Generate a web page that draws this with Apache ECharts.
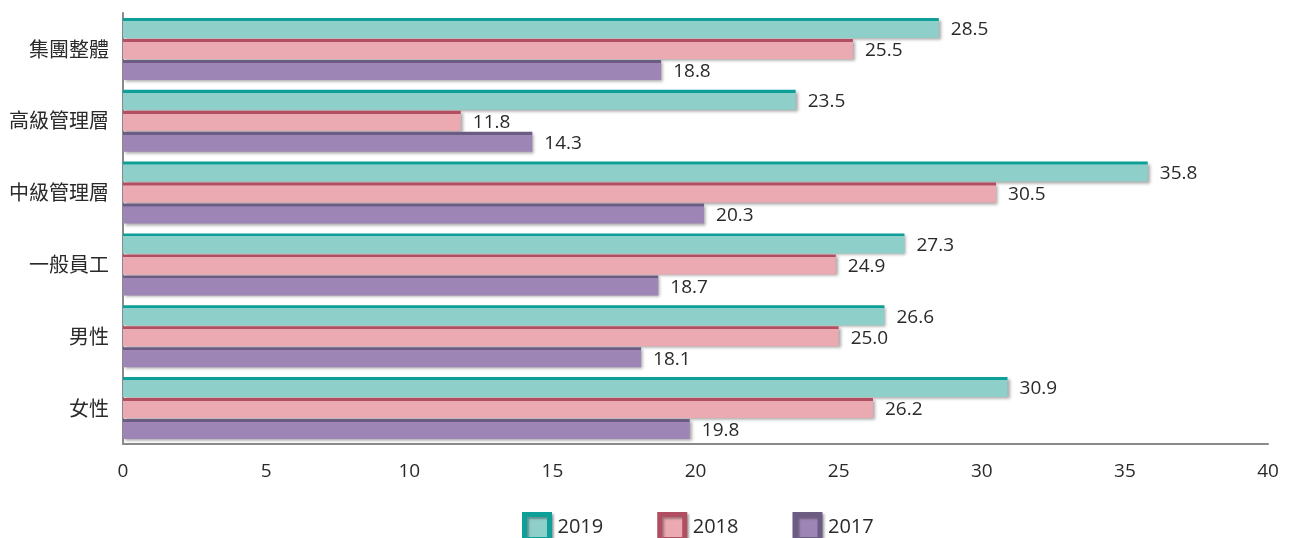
<!DOCTYPE html>
<html>
<head>
<meta charset="utf-8">
<script src="https://cdn.jsdelivr.net/npm/echarts@6/dist/echarts.min.js"></script>
<style>
  html, body { margin: 0; padding: 0; background: #fff; }
  #chart { width: 1290px; height: 538px; }
</style>
</head>
<body>
<div id="chart"></div>
<script>
// Categories (top to bottom)
const categories = ['集團整體', '高級管理層', '中級管理層', '一般員工', '男性', '女性'];
// Values per year
const values2019 = [28.5, 23.5, 35.8, 27.3, 26.6, 30.9];
const values2018 = [25.5, 11.8, 30.5, 24.9, 25.0, 26.2];
const values2017 = [18.8, 14.3, 20.3, 18.7, 18.1, 19.8];
const seriesNames = ['2019', '2018', '2017'];
const xTicks = [0, 5, 10, 15, 20, 25, 30, 35, 40];

const palette = [
  { fill: '#8ECFCA', edge: '#0E9F98' },
  { fill: '#EBA9B1', edge: '#B24E62' },
  { fill: '#9D86B5', edge: '#6C5C84' }
];

const FONT = '"Open Sans", "Noto Sans CJK TC", sans-serif';
const TEXT = '#2a2a2a';

function barStyle(p) {
  return {
    color: {
      type: 'linear', x: 0, y: 0, x2: 0, y2: 1,
      colorStops: [
        { offset: 0, color: p.edge },
        { offset: 0.14, color: p.edge },
        { offset: 0.15, color: p.fill },
        { offset: 1, color: p.fill }
      ]
    },
    shadowColor: 'rgba(0,0,0,0.35)',
    shadowBlur: 3,
    shadowOffsetX: 2,
    shadowOffsetY: 2
  };
}

function makeSeries(name, data, p) {
  return {
    name: name,
    type: 'bar',
    data: data,
    barWidth: 20,
    barGap: '5%',
    itemStyle: barStyle(p),
    label: {
      show: true,
      position: 'right',
      distance: 12,
      offset: [0, 2],
      color: TEXT,
      fontSize: 19,
      fontFamily: FONT,
      formatter: (d) => d.value.toFixed(1)
    }
  };
}

const chart = echarts.init(document.getElementById('chart'), null, { renderer: 'canvas' });
chart.setOption({
  animation: false,
  backgroundColor: '#fff',
  grid: { left: 123, right: 22, top: 13, bottom: 94, containLabel: false },
  legend: {
    top: 507,
    left: 517,
    itemWidth: 25,
    itemHeight: 25,
    itemGap: 54,
    icon: 'rect',
    textStyle: { fontSize: 20, color: TEXT, fontFamily: FONT, padding: [0, 0, 0, 3] },
    data: seriesNames.map((n, i) => ({
      name: n,
      itemStyle: {
        color: palette[i].fill,
        borderColor: palette[i].edge,
        borderWidth: 5,
        shadowColor: 'rgba(0,0,0,0.3)', shadowBlur: 2, shadowOffsetX: 2, shadowOffsetY: 2
      }
    }))
  },
  xAxis: {
    type: 'value',
    min: 0, max: 40, interval: 5,
    axisLine: { show: true, lineStyle: { color: '#8a8a8a', width: 2 } },
    axisTick: { show: false },
    splitLine: { show: false },
    axisLabel: {
      fontSize: 19, color: TEXT, fontFamily: FONT, margin: 18,
      formatter: (v) => xTicks.includes(v) ? String(v) : ''
    }
  },
  yAxis: {
    type: 'category',
    inverse: true,
    data: categories,
    axisLine: { show: true, lineStyle: { color: '#8a8a8a', width: 2 } },
    axisTick: { show: false },
    axisLabel: { fontSize: 20, color: TEXT, fontFamily: '"Noto Sans CJK TC", sans-serif', margin: 14 }
  },
  series: [
    makeSeries(seriesNames[0], values2019, palette[0]),
    makeSeries(seriesNames[1], values2018, palette[1]),
    makeSeries(seriesNames[2], values2017, palette[2])
  ]
});
</script>
</body>
</html>
